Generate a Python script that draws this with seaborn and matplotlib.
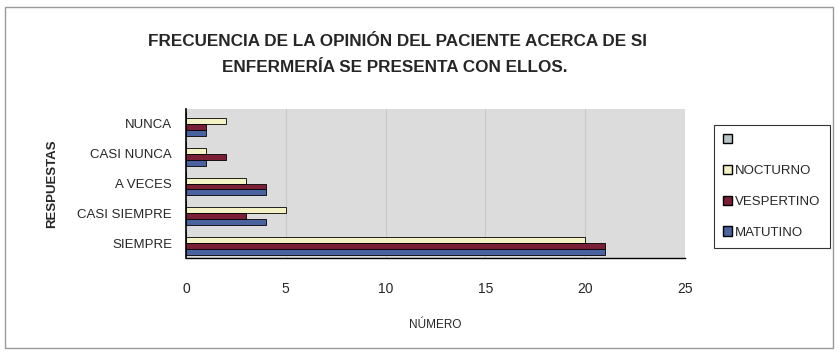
import matplotlib.pyplot as plt
import matplotlib.patches as mpatches
import seaborn as sns
import pandas as pd

respuestas = ["NUNCA", "CASI NUNCA", "A VECES", "CASI SIEMPRE", "SIEMPRE"]
turnos = [" ", "NOCTURNO", "VESPERTINO", "MATUTINO"]
vacio = [0, 0, 0, 0, 0]
nocturno = [2, 1, 3, 5, 20]
vespertino = [1, 2, 4, 3, 21]
matutino = [1, 1, 4, 4, 21]
colores = ["#b7c4c4", "#f4f1c4", "#7a1f35", "#4a62a0"]
titulo = ["FRECUENCIA DE LA OPINIÓN DEL PACIENTE ACERCA DE SI",
          "ENFERMERÍA SE PRESENTA CON ELLOS."]

df = pd.DataFrame({
    "respuesta": respuestas * 4,
    "turno": sum([[t] * 5 for t in turnos], []),
    "valor": vacio + nocturno + vespertino + matutino,
})

sns.set_style("white")
plt.rcParams['font.family'] = ['Liberation Sans', 'DejaVu Sans']

fig = plt.figure(figsize=(8.39, 3.55), dpi=100)
# plot area in pixels: x 186..685, y 109..258
ax = fig.add_axes([186 / 839, 1 - 258 / 355, 499 / 839, 149 / 355])
ax.set_facecolor("#dcdcdc")

sns.barplot(data=df, y="respuesta", x="valor", hue="turno",
            order=respuestas, hue_order=turnos, palette=colores,
            orient="h", width=0.8, edgecolor="black", linewidth=0.6,
            saturation=1, legend=False, ax=ax)

ax.set_xlim(0, 25)
ax.set_xticks(range(0, 26, 5))
ax.xaxis.grid(True, color="#c8c8c8", linewidth=0.8)
ax.set_axisbelow(True)
for s in ["top", "right"]:
    ax.spines[s].set_visible(False)
ax.spines["left"].set_color("black")
ax.spines["left"].set_linewidth(1.2)
ax.spines["bottom"].set_color("black")
ax.spines["bottom"].set_linewidth(1.0)
ax.set_yticks([i + 0.5 for i in range(-1, 5)], minor=True)
ax.tick_params(axis="y", which="minor", length=6, direction="inout", width=1)
ax.tick_params(axis="y", which="major", length=0, labelsize=9.5, pad=10)
ax.tick_params(axis="x", length=3, direction="out", labelsize=10, pad=14)
ax.set_ylabel("RESPUESTAS", fontsize=9.5, fontweight="bold", labelpad=14)
ax.set_xlabel("NÚMERO", fontsize=8.5, labelpad=17)

fig.text(398 / 839, 1 - 42 / 355, titulo[0], ha="center", va="center",
         fontsize=12.3, fontweight="bold")
fig.text(395 / 839, 1 - 67 / 355, titulo[1], ha="center", va="center",
         fontsize=12.3, fontweight="bold")

handles = [mpatches.Patch(facecolor=c, edgecolor="black", linewidth=1.0) for c in colores]
leg = fig.legend(handles, turnos, loc="upper left", bbox_to_anchor=(714 / 839, 1 - 125 / 355),
                 fontsize=9.5, frameon=True, fancybox=False, edgecolor="black",
                 handlelength=0.7, handleheight=0.7, handletextpad=0.2,
                 labelspacing=1.4, borderpad=0.7, borderaxespad=0)
leg.get_frame().set_linewidth(0.8)

fig.patches.append(mpatches.Rectangle((5 / 839, 7 / 355), 828 / 839, 341 / 355, transform=fig.transFigure,
                                      fill=False, edgecolor="#999999", linewidth=1.0))

plt.savefig("out.png", dpi=100)
